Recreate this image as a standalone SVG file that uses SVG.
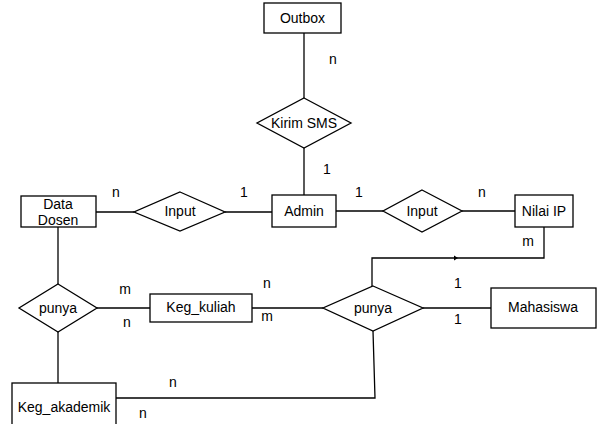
<svg xmlns="http://www.w3.org/2000/svg" width="597" height="424" viewBox="0 0 597 424">
<style>
.box{fill:#fff;stroke:#000;stroke-width:1.3}
.con{fill:none;stroke:#000;stroke-width:1.3}
text{font-family:"Liberation Sans",Arial,sans-serif;font-size:14px;fill:#000}
.c{text-anchor:middle}
</style>
<rect width="597" height="424" fill="#fff"/>
<g id="connectors">
<line class="con" x1="304" y1="33" x2="304" y2="98"/>
<line class="con" x1="304" y1="148" x2="304" y2="195"/>
<line class="con" x1="96" y1="212" x2="134" y2="212"/>
<line class="con" x1="225" y1="212" x2="272" y2="212"/>
<line class="con" x1="336" y1="211" x2="383" y2="211"/>
<line class="con" x1="462" y1="211" x2="515" y2="211"/>
<polyline class="con" points="544,227 544,258 372,258 372,286"/>
<path d="M454,255.5 L458,258 L454,260.5 Z" fill="#000"/>
<line class="con" x1="58" y1="227" x2="58" y2="284"/>
<line class="con" x1="97" y1="308" x2="150" y2="308"/>
<line class="con" x1="252" y1="308" x2="323" y2="308"/>
<line class="con" x1="423" y1="308" x2="491" y2="308"/>
<line class="con" x1="58" y1="332" x2="58" y2="383"/>
<polyline class="con" points="373,331 375,398 116,398"/>
</g>
<g id="outbox"><rect class="box" x="264" y="3" width="77" height="30"/><text class="c" x="302.5" y="23">Outbox</text></g>
<g id="kirim-sms"><polygon class="box" points="304,98 351,123 304,148 257,123"/><text class="c" x="304" y="128">Kirim SMS</text></g>
<g id="admin"><rect class="box" x="272" y="195" width="64" height="32"/><text class="c" x="304" y="216">Admin</text></g>
<g id="data-dosen"><rect class="box" x="21" y="196" width="75" height="31"/><text class="c" x="58" y="209">Data</text><text class="c" x="58" y="225">Dosen</text></g>
<g id="input-left"><polygon class="box" points="180,192 225,212 180,231 134,212"/><text class="c" x="180" y="216">Input</text></g>
<g id="input-right"><polygon class="box" points="422,190 462,211 422,232 383,211"/><text class="c" x="422" y="216">Input</text></g>
<g id="nilai-ip"><rect class="box" x="515" y="195" width="58" height="32"/><text class="c" x="544" y="216">Nilai IP</text></g>
<g id="punya-left"><polygon class="box" points="58,284 97,308 58,332 19,308"/><text class="c" x="58" y="313">punya</text></g>
<g id="keg-kuliah"><rect class="box" x="150" y="294" width="102" height="28"/><text class="c" x="201" y="312">Keg_kuliah</text></g>
<g id="punya-right"><polygon class="box" points="373,286 423,308 373,331 323,308"/><text class="c" x="373" y="313">punya</text></g>
<g id="mahasiswa"><rect class="box" x="491" y="288" width="105" height="40"/><text class="c" x="543" y="312">Mahasiswa</text></g>
<g id="keg-akademik"><rect class="box" x="12" y="383" width="104" height="45"/><text class="c" x="64" y="412">Keg_akademik</text></g>
<g id="labels">
<text class="c" x="333" y="64">n</text>
<text class="c" x="327" y="174">1</text>
<text class="c" x="116" y="197">n</text>
<text class="c" x="244" y="197">1</text>
<text class="c" x="359" y="197">1</text>
<text class="c" x="482" y="197">n</text>
<text class="c" x="528" y="246">m</text>
<text class="c" x="125" y="294">m</text>
<text class="c" x="127" y="327">n</text>
<text class="c" x="267" y="288">n</text>
<text class="c" x="267" y="321">m</text>
<text class="c" x="458" y="288">1</text>
<text class="c" x="458" y="324">1</text>
<text class="c" x="173" y="387">n</text>
<text class="c" x="143" y="418">n</text>
</g>
</svg>
